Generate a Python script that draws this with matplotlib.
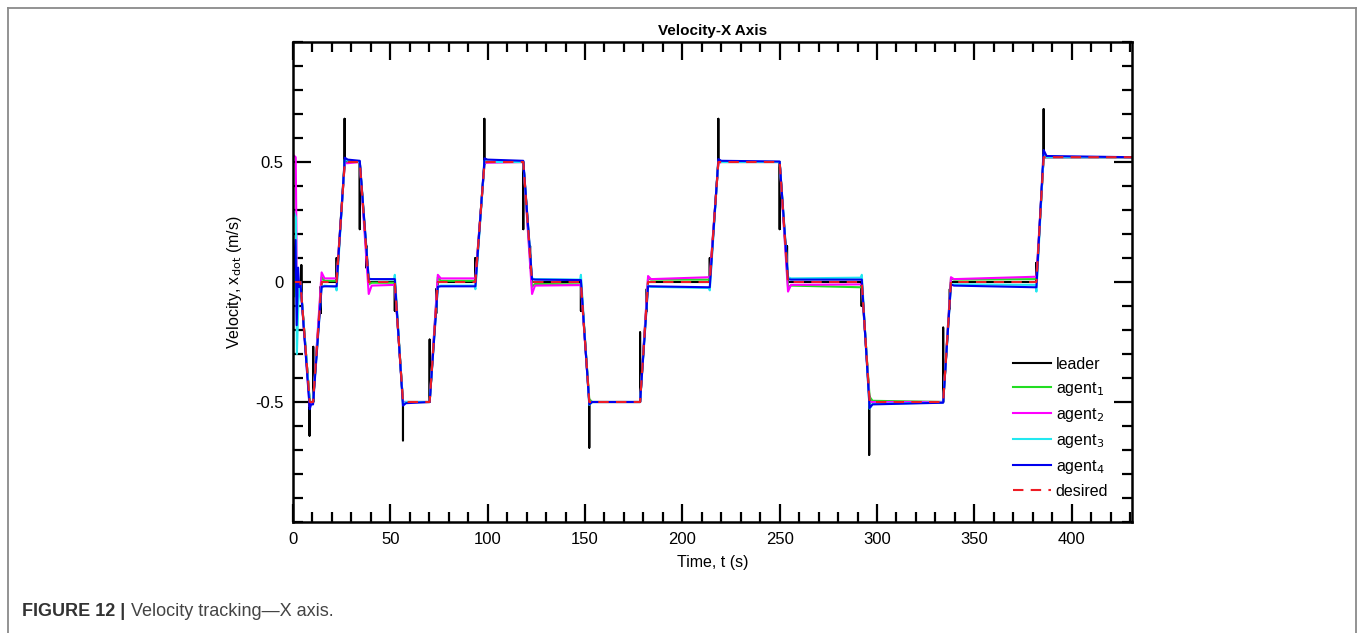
import numpy as np
import matplotlib
matplotlib.use("Agg")
import matplotlib.pyplot as plt
from matplotlib.lines import Line2D
from matplotlib.ticker import MultipleLocator, FixedLocator, FuncFormatter

plt.rcParams['font.family'] = ['Liberation Sans', 'DejaVu Sans']
plt.rcParams['axes.unicode_minus'] = False

# ---------------- data ----------------
# plateaus of the desired velocity profile
plat_start = [0.0, 8.6, 14.7, 26.6, 38.9, 56.5, 74.4, 98.4, 122.8, 152.2, 182.4, 218.5, 254.3, 296.2, 338.0, 385.6]
plat_end   = [3.8, 10.3, 22.4, 34.3, 52.3, 70.2, 93.7, 118.3, 147.9, 178.3, 214.1, 250.0, 292.2, 334.0, 381.9, 431.0]
plat_level = [0.0, -0.5, 0.0, 0.5, 0.0, -0.5, 0.0, 0.5, 0.0, -0.5, 0.0, 0.5, 0.0, -0.5, 0.0, 0.52]

# leader impulses (time, low end, high end)
spk_t  = [4.3, 8.5, 10.4, 14.2, 22.4, 26.5, 34.3, 37.7, 52.3, 56.5, 70.2, 73.6, 93.7, 98.3, 118.3, 121.8,
          147.9, 152.2, 178.3, 181.7, 214.1, 218.5, 250.0, 253.8, 292.1, 296.0, 334.0, 337.4, 381.9, 385.6]
spk_lo = [0.02, -0.64, -0.5, -0.13, 0.0, 0.5, 0.22, 0.06, -0.12, -0.66, -0.5, -0.13, 0.0, 0.5, 0.22, 0.06,
          -0.12, -0.69, -0.5, -0.12, 0.0, 0.5, 0.22, 0.05, -0.10, -0.72, -0.5, -0.11, 0.0, 0.52]
spk_hi = [0.07, -0.5, -0.27, -0.02, 0.10, 0.68, 0.5, 0.15, 0.0, -0.5, -0.24, -0.03, 0.10, 0.68, 0.5, 0.15,
          0.0, -0.5, -0.21, -0.03, 0.10, 0.68, 0.5, 0.15, 0.0, -0.5, -0.19, -0.03, 0.08, 0.72]

# agent offsets from each plateau level: overshoot at start, settled value, value at end, tip at end
g_ovs = [0, 0.0, 0.02, 0.01, -0.01, 0.0, 0.02, 0.005, -0.02, 0.012, 0.015, 0.0, -0.02, 0.022, 0.015, 0.0]
g_a   = [0, 0.0, 0.005, 0.005, -0.003, 0.0, 0.005, 0.0, -0.008, 0.0, 0.01, 0.0, -0.015, 0.005, 0.01, 0.0]
g_b   = [0, 0.0, 0.005, 0.0, -0.003, 0.0, 0.005, 0.0, -0.01, 0.0, 0.01, 0.0, -0.022, 0.0, 0.012, 0.0]

m_ovs = [0, -0.02, 0.04, -0.005, -0.05, 0.0, 0.03, -0.005, -0.05, 0.0, 0.025, -0.005, -0.04, 0.0, 0.02, 0.0]
m_a   = [0, 0.0, 0.015, -0.005, -0.015, 0.0, 0.015, -0.003, -0.015, 0.0, 0.012, 0.0, -0.012, 0.0, 0.012, 0.0]
m_b   = [0, 0.0, 0.015, 0.0, -0.012, 0.0, 0.015, 0.0, -0.013, 0.0, 0.02, 0.0, -0.01, 0.0, 0.022, 0.0]

c_ovs = [0, 0.0, -0.02, 0.01, 0.015, -0.01, -0.02, 0.005, 0.015, -0.012, -0.015, 0.005, 0.02, -0.028, -0.01, 0.01]
c_a   = [0, 0.0, -0.015, 0.005, 0.012, 0.0, -0.015, 0.0, 0.012, 0.0, -0.02, 0.0, 0.015, -0.008, -0.01, 0.0]
c_b   = [0, 0.0, -0.02, 0.0, 0.01, 0.0, -0.015, 0.0, 0.01, 0.0, -0.025, 0.0, 0.018, -0.002, -0.012, 0.0]
c_tip = [0, 0.0, -0.035, 0.0, 0.03, 0.0, -0.03, 0.0, 0.03, 0.0, -0.035, 0.0, 0.03, 0.0, -0.04, 0.0]

b_ovs = [0, -0.03, -0.02, 0.018, 0.012, -0.015, -0.02, 0.015, 0.012, -0.01, -0.018, 0.012, 0.012, -0.025, -0.01, 0.03]
b_a   = [0, -0.01, -0.018, 0.01, 0.012, -0.005, -0.018, 0.01, 0.01, 0.0, -0.018, 0.005, 0.01, -0.01, -0.015, 0.005]
b_b   = [0, -0.01, -0.018, 0.005, 0.012, 0.0, -0.018, 0.005, 0.008, 0.0, -0.022, 0.002, 0.01, -0.003, -0.022, 0.0]

# initial transients (t = 0 ... 3.8 s)
lead_t0 = [0.0, 3.8]
lead_v0 = [0.0, 0.0]
g_t0 = [0.0, 0.8, 1.6, 2.6, 3.8]
g_v0 = [0.08, -0.06, 0.04, -0.01, 0.0]
m_t0 = [0.0, 1.4, 2.0, 3.0, 3.8]
m_v0 = [0.53, 0.52, 0.0, -0.01, 0.0]
c_t0 = [0.0, 1.5, 2.0, 2.8, 3.8]
c_v0 = [0.3, 0.27, -0.3, -0.08, 0.0]
b_t0 = [0.0, 1.3, 1.9, 2.6, 3.2, 3.8]
b_v0 = [0.0, 0.175, -0.18, 0.06, -0.02, 0.0]

legend_labels = ['leader', 'agent$_1$', 'agent$_2$', 'agent$_3$', 'agent$_4$', 'desired']
colors = ['black', '#22dd22', '#ff00ff', '#22e8f0', '#0000ee', '#ee1c24']

# ---------------- build polylines ----------------
des_t, des_v = [], []
for s, e, lv in zip(plat_start, plat_end, plat_level):
    des_t += [s, e]
    des_v += [lv, lv]
des_t = np.array(des_t)
des_v = np.array(des_v)

# leader = desired with impulses
lt_all, lv_all = list(lead_t0), list(lead_v0)
seq = []
for i in range(1, len(plat_start)):
    seq.append((plat_start[i], plat_level[i], 0))
    seq.append((plat_end[i], plat_level[i], 0))
for k, t in enumerate(spk_t):
    seq.append((t, None, k + 1))
seq.sort(key=lambda p: (p[0], p[2]))
for t, v, k in seq:
    if k == 0:
        lt_all.append(t); lv_all.append(v)
    else:
        d = float(np.interp(t, des_t, des_v))
        j = k - 1
        lt_all += [t, t, t, t]
        lv_all += [d, spk_hi[j], spk_lo[j], d]


def agent_line(t0, v0, ovs, a, b, tip=None):
    ts, vs = list(t0), list(v0)
    for i in range(1, len(plat_start)):
        s, e, lvl = plat_start[i], plat_end[i], plat_level[i]
        dur = e - s
        ts += [s, s + min(1.5, dur * 0.4)]
        vs += [lvl + ovs[i], lvl + a[i]]
        if tip is not None and tip[i] != b[i]:
            ts += [e - 0.4, e]
            vs += [lvl + b[i], lvl + tip[i]]
        else:
            ts += [e]
            vs += [lvl + b[i]]
    return ts, vs


g_t, g_v = agent_line(g_t0, g_v0, g_ovs, g_a, g_b)
m_t, m_v = agent_line(m_t0, m_v0, m_ovs, m_a, m_b)
c_t, c_v = agent_line(c_t0, c_v0, c_ovs, c_a, c_b, c_tip)
b_t, b_v = agent_line(b_t0, b_v0, b_ovs, b_a, b_b)

# ---------------- figure ----------------
fig = plt.figure(figsize=(13.6, 6.33), dpi=100)
fig.patch.set_facecolor('white')
W, H = 1360, 633
frame_c = '#8a8a8a'
fig.add_artist(Line2D([8 / W, 1356 / W], [1 - 8 / H, 1 - 8 / H], color=frame_c, lw=1.3))
fig.add_artist(Line2D([8 / W, 8 / W], [0, 1 - 8 / H], color=frame_c, lw=1.3))
fig.add_artist(Line2D([1356 / W, 1356 / W], [0, 1 - 8 / H], color=frame_c, lw=1.3))

ax = fig.add_axes([293 / W, 1 - 522 / H, 839 / W, 480 / H])

lw = 1.5
ax.plot(lt_all, lv_all, color=colors[0], lw=lw, label=legend_labels[0])
ax.plot(g_t, g_v, color=colors[1], lw=lw, label=legend_labels[1])
ax.plot(m_t, m_v, color=colors[2], lw=lw, label=legend_labels[2])
ax.plot(c_t, c_v, color=colors[3], lw=lw, label=legend_labels[3])
ax.plot(b_t, b_v, color=colors[4], lw=lw, label=legend_labels[4])
ax.plot(des_t, des_v, color=colors[5], lw=1.5, ls=(0, (5, 3.5)), label=legend_labels[5])

ax.set_xlim(0, 431)
ax.set_ylim(-1, 1)
ax.xaxis.set_major_locator(MultipleLocator(50))
ax.xaxis.set_minor_locator(MultipleLocator(10))
ax.yaxis.set_major_locator(FixedLocator([-0.5, 0, 0.5]))
ax.yaxis.set_minor_locator(MultipleLocator(0.1))
ax.xaxis.set_major_formatter(FuncFormatter(lambda x, p: f"{int(round(x))}"))
ax.yaxis.set_major_formatter(FuncFormatter(lambda y, p: "0" if abs(y) < 1e-9 else f"{y:g}"))

for sp in ax.spines.values():
    sp.set_linewidth(1.8)
ax.tick_params(which='both', direction='in', top=True, right=True, width=1.6, labelsize=12, pad=7)
ax.tick_params(which='major', length=13)
ax.tick_params(which='minor', length=7)

ax.set_title('Velocity-X Axis', fontweight='bold', fontsize=11, pad=5)
ax.set_xlabel('Time, t (s)', fontsize=11.5, labelpad=6)
ax.set_ylabel('Velocity, x$_{\\mathrm{dot}}$ (m/s)', fontsize=11.5, labelpad=8)

leg = ax.legend(loc='lower right', bbox_to_anchor=(0.985, 0.025), frameon=False, fontsize=11.5,
                handlelength=2.4, handletextpad=0.3, labelspacing=0.5, borderpad=0.2)

fig.text(22 / W, 1 - 616 / H, 'FIGURE 12 |', fontsize=13, fontweight='bold', color='#333333',
         va='baseline', ha='left')
fig.text(131 / W, 1 - 616 / H, 'Velocity tracking\u2014X axis.', fontsize=13, color='#444444',
         va='baseline', ha='left')

fig.savefig('out.png', dpi=100)
